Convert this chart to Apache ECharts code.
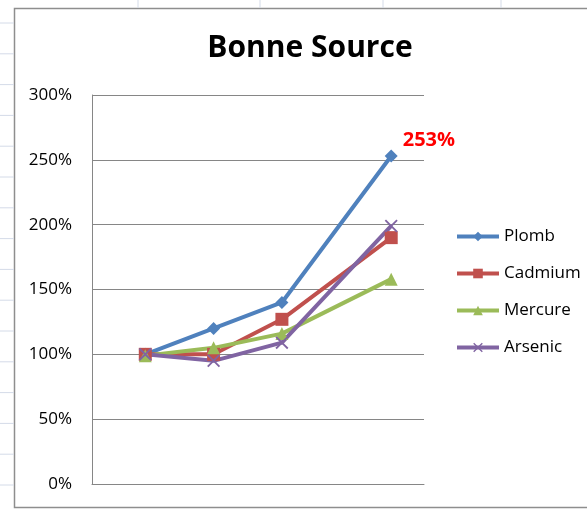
<!DOCTYPE html>
<html>
<head>
    <meta charset="UTF-8">
    <title>Bonne Source</title>
    <style>
        html, body { margin: 0; padding: 0; background: #fff; }
        #chart { width: 587px; height: 510px; }
    </style>
    <script src="https://cdn.jsdelivr.net/npm/echarts@6/dist/echarts.min.js"></script>
</head>
<body>
<div id="chart"></div>
<script>
    // positions on the hidden horizontal axis (uneven spacing as in the picture)
    var xPos = [1, 2, 3, 4.6];
    var plomb = [1.00, 1.20, 1.40, 2.53];
    var cadmium = [1.00, 1.00, 1.27, 1.90];
    var mercure = [0.99, 1.05, 1.16, 1.58];
    var arsenic = [1.00, 0.95, 1.09, 1.99];
    var seriesNames = ['Plomb', 'Cadmium', 'Mercure', 'Arsenic'];
    var yTicks = [0, 0.5, 1, 1.5, 2, 2.5, 3];

    var chart = echarts.init(document.getElementById('chart'));
    var font = 'Open Sans';
    var xMark = 'path://M0,1L1,0L5,4L9,0L10,1L6,5L10,9L9,10L5,6L1,10L0,9L4,5Z';

    function pts(vals) {
        var out = [];
        for (var i = 0; i < vals.length; i++) out.push([xPos[i], vals[i]]);
        return out;
    }

    // spreadsheet cell lines behind the chart object
    var sheet = [];
    for (var y = 23; y < 510; y += 30.8) {
        sheet.push({type: 'line', shape: {x1: 0, y1: y, x2: 14, y2: y}, style: {stroke: '#d4dbe8', lineWidth: 1}, silent: true});
    }
    [138, 260, 383, 501].forEach(function (x) {
        sheet.push({type: 'line', shape: {x1: x, y1: 0, x2: x, y2: 8}, style: {stroke: '#d4dbe8', lineWidth: 1}, silent: true});
    });
    sheet.push({type: 'rect', shape: {x: 14.5, y: 8.5, width: 620, height: 499}, style: {fill: 'none', stroke: '#8e8e8e', lineWidth: 1.5}, silent: true, z: -1});

    function lineSeries(name, vals, color, symbol, size) {
        return {
            name: name,
            type: 'line',
            data: pts(vals),
            symbol: symbol,
            symbolSize: size,
            lineStyle: {color: color, width: 4},
            itemStyle: {color: color},
            emphasis: {disabled: true}
        };
    }

    var s0 = lineSeries(seriesNames[0], plomb, '#4f81bd', 'diamond', 13);
    s0.label = {
        show: true,
        formatter: function (p) { return p.dataIndex === 3 ? Math.round(p.value[1] * 100) + '%' : ''; },
        position: 'right',
        offset: [0, -16],
        color: '#ff0000',
        fontWeight: 'bold',
        fontSize: 20,
        fontFamily: font
    };

    var option = {
        backgroundColor: '#fff',
        animation: false,
        graphic: sheet,
        title: {
            text: 'Bonne Source',
            left: 305,
            textAlign: 'center',
            top: 28,
            textStyle: {fontFamily: font, fontSize: 30, fontWeight: 'bold', color: '#000'}
        },
        legend: {
            orient: 'vertical',
            left: 450,
            top: 223,
            itemWidth: 42,
            itemHeight: 12,
            itemGap: 20,
            data: seriesNames,
            lineStyle: {width: 4},
            textStyle: {fontFamily: font, fontSize: 17, color: '#000'}
        },
        grid: {left: 92, right: 163, top: 95, bottom: 26},
        xAxis: {
            type: 'value',
            min: 0.22,
            max: 5.08,
            axisLabel: {show: false},
            axisTick: {show: false},
            splitLine: {show: false},
            axisLine: {show: true, onZero: false, lineStyle: {color: '#868686', width: 1}}
        },
        yAxis: {
            type: 'value',
            min: yTicks[0],
            max: yTicks[yTicks.length - 1],
            interval: 0.5,
            axisLine: {show: true, lineStyle: {color: '#868686', width: 1}},
            axisTick: {show: false},
            splitLine: {lineStyle: {color: '#868686', width: 1}},
            axisLabel: {
                formatter: function (v) { return Math.round(v * 100) + '%'; },
                fontFamily: font,
                fontSize: 17,
                color: '#000',
                margin: 20
            }
        },
        series: [
            s0,
            lineSeries(seriesNames[1], cadmium, '#c0504d', 'rect', 13),
            lineSeries(seriesNames[2], mercure, '#9bbb59', 'triangle', 13),
            lineSeries(seriesNames[3], arsenic, '#8064a2', xMark, 13)
        ]
    };
    chart.setOption(option);
</script>
</body>
</html>
